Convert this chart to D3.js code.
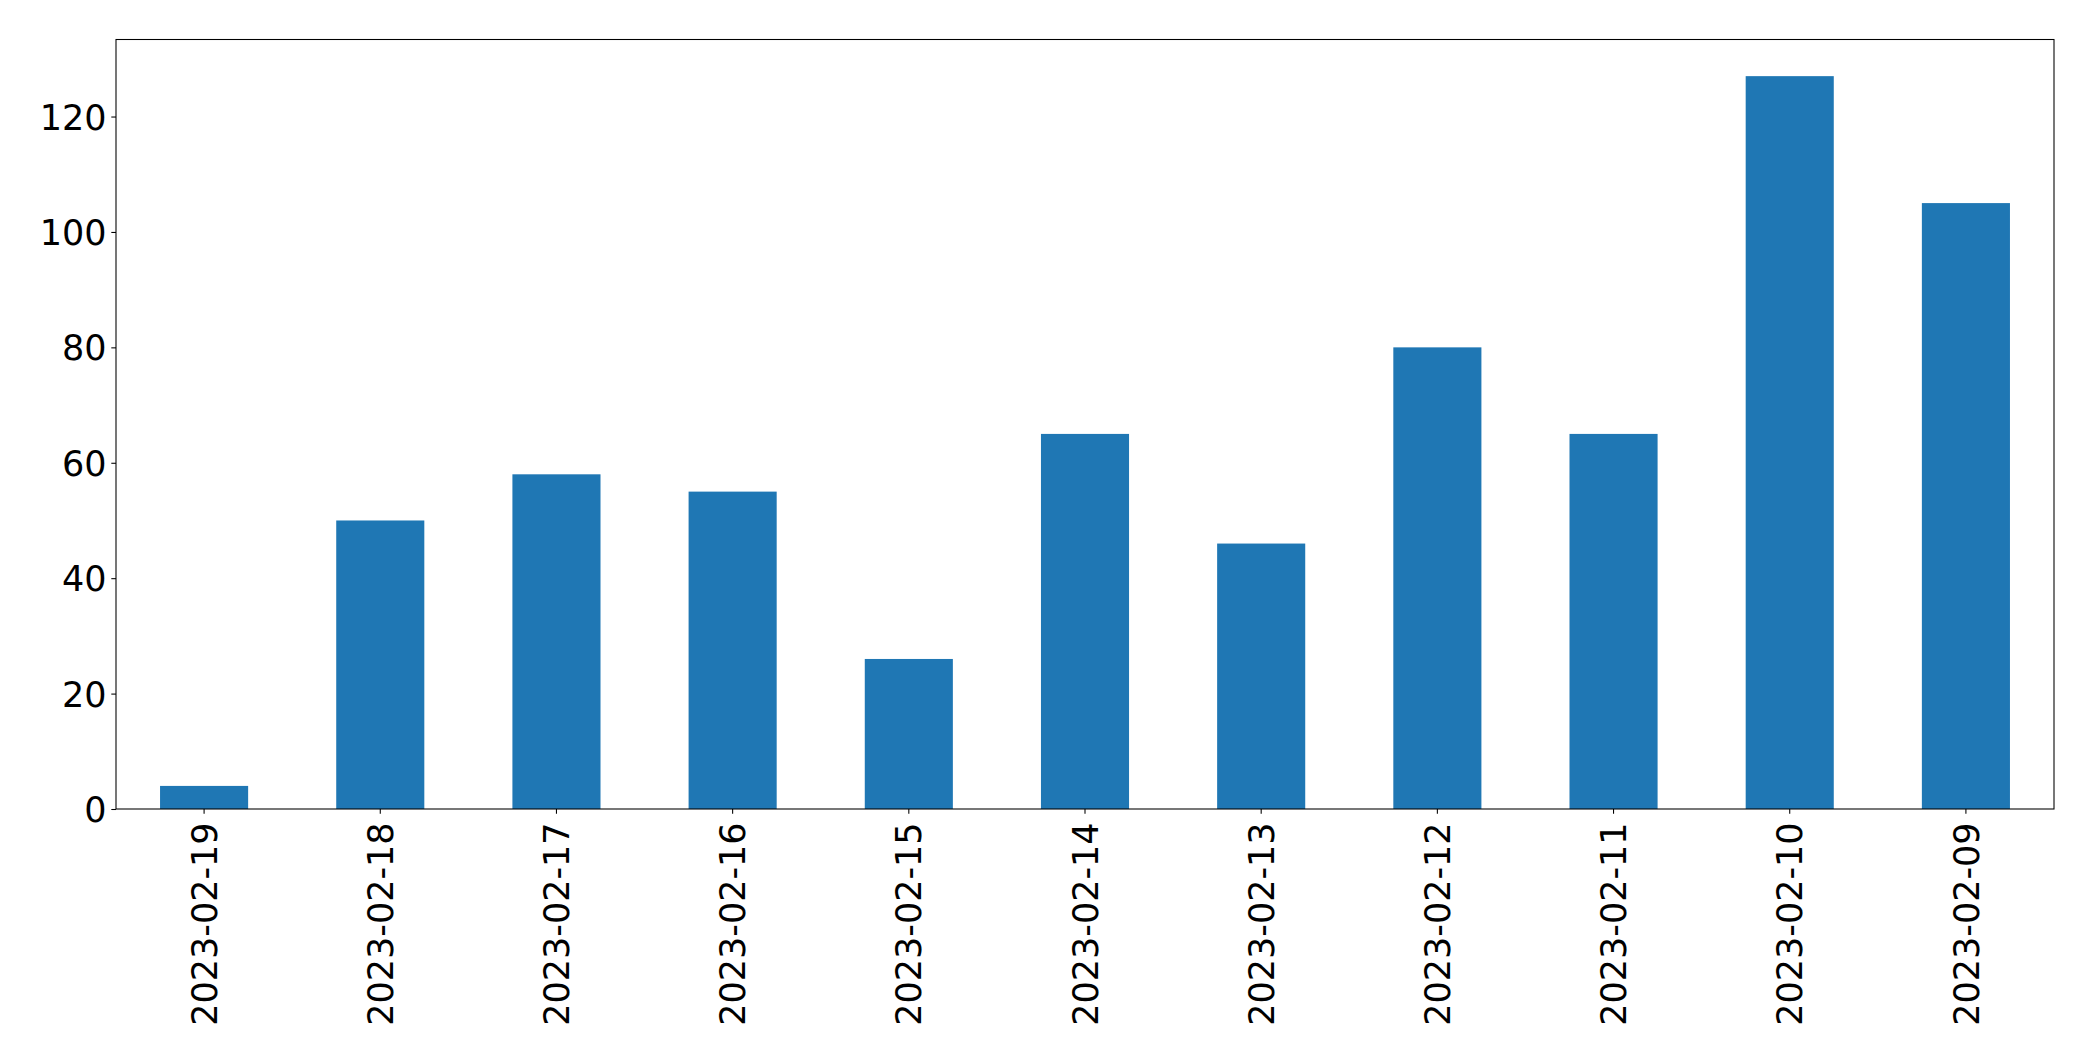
<!DOCTYPE html>
<html><head><meta charset="utf-8">
<script src="https://cdn.jsdelivr.net/npm/d3@7"></script>
<style>html,body{margin:0;padding:0;background:#fff;}svg{display:block;}</style>
</head><body>
<script>
const categories = ["2023-02-19","2023-02-18","2023-02-17","2023-02-16","2023-02-15","2023-02-14","2023-02-13","2023-02-12","2023-02-11","2023-02-10","2023-02-09"];
const values = [4, 50, 58, 55, 26, 65, 46, 80, 65, 127, 105];
const yTicks = [0, 20, 40, 60, 80, 100, 120];

const W = 2093, H = 1061;
const m = {left: 116, right: 2054, top: 39.5, bottom: 809};
const fontSize = 35;

const svg = d3.select("body").append("svg").attr("width", W).attr("height", H);

const x = d3.scaleBand().domain(categories).range([m.left, m.right]).paddingInner(0.5).paddingOuter(0.25);
const y = d3.scaleLinear().domain([0, d3.max(values) * 1.05]).range([m.bottom, m.top]);

svg.append("g").selectAll("rect").data(values).join("rect")
  .attr("x", (d, i) => x(categories[i]))
  .attr("width", x.bandwidth())
  .attr("y", d => y(d))
  .attr("height", d => y(0) - y(d))
  .attr("fill", "#1f77b4");

const yAxis = svg.append("g").attr("transform", `translate(${m.left},0)`)
  .call(d3.axisLeft(y).tickValues(yTicks).tickSize(4.7).tickPadding(4.7).tickFormat(d3.format("d")));
const xAxis = svg.append("g").attr("transform", `translate(0,${m.bottom})`)
  .call(d3.axisBottom(x).tickSize(4.7).tickPadding(4.7));

[yAxis, xAxis].forEach(g => {
  g.select(".domain").remove();
  g.selectAll(".tick line").attr("stroke", "#000").attr("stroke-width", 1.07);
  g.selectAll("text").attr("fill", "#000").style("font-family", "DejaVu Sans").style("font-size", fontSize + "px");
});
yAxis.selectAll("text").attr("dy", "0.36em");
xAxis.selectAll("text")
  .attr("text-anchor", "end")
  .attr("transform", "rotate(-90)")
  .attr("x", -(4.7 + 4.7 + 4))
  .attr("y", 0)
  .attr("dy", "0.36em");

svg.append("rect").attr("x", m.left).attr("y", m.top)
  .attr("width", m.right - m.left).attr("height", m.bottom - m.top)
  .attr("fill", "none").attr("stroke", "#000").attr("stroke-width", 1.07);
</script>
</body></html>
